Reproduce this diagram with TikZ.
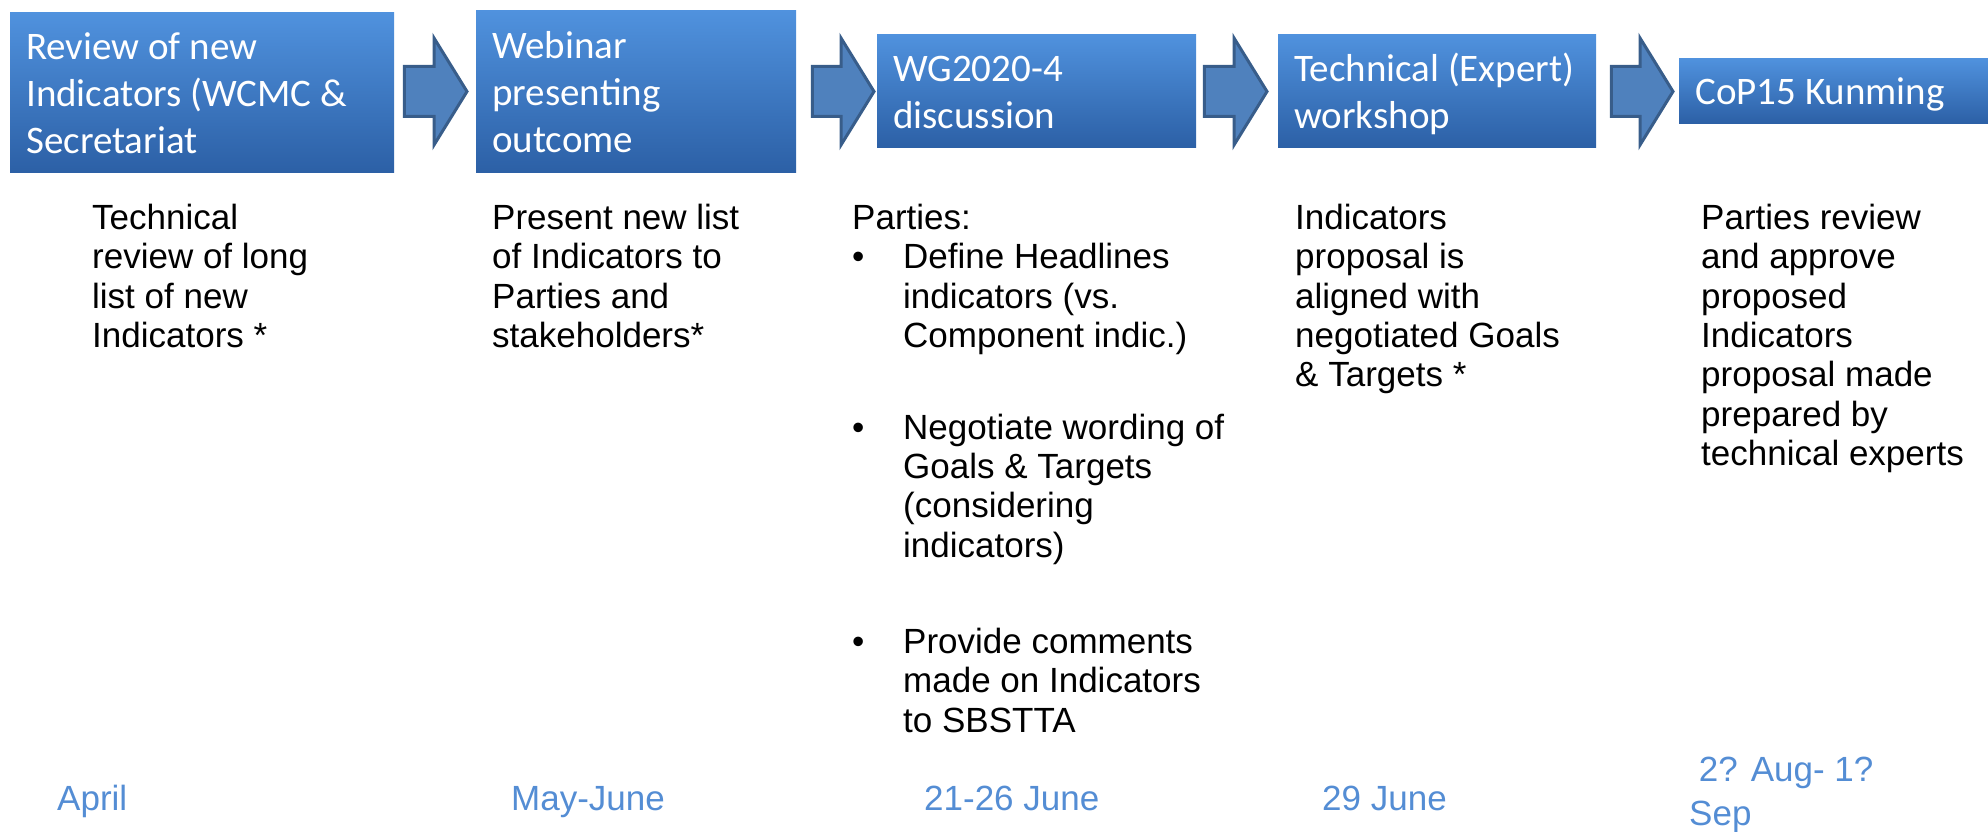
\documentclass[tikz,border=0pt]{standalone}
\usepackage{fontspec}
\setmainfont{Liberation Sans}
\newfontfamily\carlito{Carlito}
\usetikzlibrary{calc}

\definecolor{boxtop}{RGB}{80,146,222}
\definecolor{boxbot}{RGB}{44,96,166}
\definecolor{arrfill}{RGB}{79,129,189}
\definecolor{arrline}{RGB}{56,93,138}
\definecolor{datecol}{RGB}{84,141,212}
\newcommand\bxs{\rule[-8pt]{0pt}{44pt}}
\newcommand\bul{\makebox[51pt][l]{\textbullet}}
\newcommand\ind{\hspace*{51pt}}

\begin{document}
\begin{tikzpicture}[x=1pt,y=-1pt,
  stage/.style={anchor=north west,top color=boxtop,bottom color=boxbot,text=white,align=flush left,inner xsep=16pt,inner ysep=0pt,font=\carlito\fontsize{39}{47}\selectfont,execute at begin node=\bxs,execute at end node=\bxs},
  note/.style={anchor=north west,inner sep=0pt,align=flush left,font=\fontsize{35}{39.3}\selectfont,execute at begin node=\strut},
  when/.style={note,text=datecol,font=\fontsize{35}{44}\selectfont},
  flow/.style={fill=arrfill,draw=arrline,line width=3pt,line join=miter}]
\useasboundingbox (0,0) rectangle (1988,832);

% stages
\node[stage,minimum width=384pt,minimum height=160pt,text width=352pt] (b1) at (10,12) {Review of new\\Indicators (WCMC~\&\\Secretariat};
\node[stage,minimum width=320pt,minimum height=162pt,text width=288pt] (b2) at (476,10) {Webinar\\presenting\\outcome};
\node[stage,minimum width=319pt,minimum height=113pt,text width=287pt] (b3) at (877,34) {WG2020-4\\discussion};
\node[stage,minimum width=318pt,minimum height=113pt,text width=286pt] (b4) at (1278,34) {Technical~(Expert)\\workshop};
\node[stage,minimum width=309pt,minimum height=65pt,text width=277pt] (b5) at (1679,58) {CoP15 Kunming};

% block arrows between the stages
\coordinate (axis) at (0,91.5);
\foreach \a/\b/\s/\e in {b1/b2/10/9,b2/b3/16/3,b3/b4/8/11,b4/b5/15/6}
  \draw[flow] ($(\a.east|-axis)+(\s,-25)$) -- ($(\b.west|-axis)+(-\e-33,-25)$) -- ++(0,-28.5)
    -- ($(\b.west|-axis)+(-\e,0)$) -- ($(\b.west|-axis)+(-\e-33,53.5)$) -- ++(0,-28.5)
    -- ($(\a.east|-axis)+(\s,25)$) -- cycle;

% descriptions
\node[note] (t1) at (92,204) {Technical\\review of long\\list of new\\Indicators *};
\node[note] (t2) at (492,204) {Present new list\\of Indicators to\\Parties and\\stakeholders*};
\node[note] (t3) at (852,204) {Parties:\\\bul Define Headlines\\\ind indicators (vs.\\\ind Component indic.)\\[52.5pt]\bul Negotiate wording of\\\ind Goals \& Targets\\\ind (considering\\\ind indicators)\\[57pt]\bul Provide comments\\\ind made on Indicators\\\ind to SBSTTA};
\node[note] (t4) at (1295,204) {Indicators\\proposal is\\aligned with\\negotiated Goals\\\& Targets *};
\node[note] (t5) at (1701,204) {Parties review\\and approve\\proposed\\Indicators\\proposal made\\prepared by\\technical experts};

% dates
\node[when] (d1) at (57,779.2) {April};
\node[when] (d2) at (511,779.2) {May-June};
\node[when] (d3) at (924,779.2) {21-26 June};
\node[when] (d4) at (1322,779.2) {29 June};
\node[when] (d5) at (1689,757.2) {\ 2? Aug- 1?\\Sep};
\end{tikzpicture}
\end{document}
